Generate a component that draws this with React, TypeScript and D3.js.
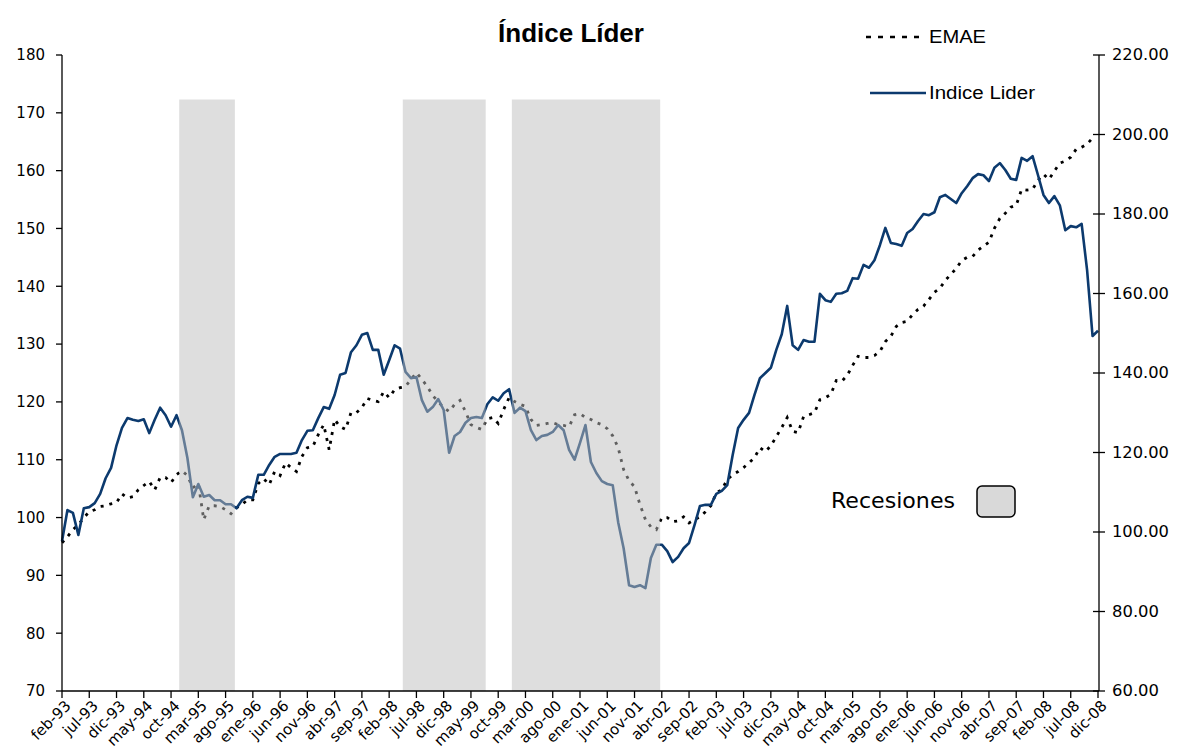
import React from "react";
import * as d3 from "d3";

const MONTHS = ["ene", "feb", "mar", "abr", "may", "jun", "jul", "ago", "sep", "oct", "nov", "dic"];
const N_MONTHS = 191;
const categories: string[] = [];
for (let k = 0; k < N_MONTHS; k++) {
  const m = (1 + k) % 12;
  const y = 93 + Math.floor((1 + k) / 12);
  categories.push(`${MONTHS[m]}-${String(y % 100).padStart(2, "0")}`);
}

const tickLabels = [
  "feb-93", "jul-93", "dic-93", "may-94", "oct-94", "mar-95", "ago-95", "ene-96", "jun-96", "nov-96",
  "abr-97", "sep-97", "feb-98", "jul-98", "dic-98", "may-99", "oct-99", "mar-00", "ago-00", "ene-01",
  "jun-01", "nov-01", "abr-02", "sep-02", "feb-03", "jul-03", "dic-03", "may-04", "oct-04", "mar-05",
  "ago-05", "ene-06", "jun-06", "nov-06", "abr-07", "sep-07", "feb-08", "jul-08", "dic-08",
];

const leftTicks = [70, 80, 90, 100, 110, 120, 130, 140, 150, 160, 170, 180];
const rightTicks = [60, 80, 100, 120, 140, 160, 180, 200, 220];

// Índice Líder (left axis)
const indiceLider = [
  95.9, 101.3, 100.8, 97.0, 101.6, 101.8, 102.5, 104.1, 106.8, 108.6,
  112.5, 115.5, 117.2, 116.9, 116.7, 117.0, 114.6, 116.9, 119.0, 117.7,
  115.7, 117.7, 115.1, 110.3, 103.5, 105.8, 103.6, 103.9, 103.0, 103.0,
  102.3, 102.3, 101.6, 103.0, 103.6, 103.4, 107.4, 107.4, 109.1, 110.5,
  111.0, 111.0, 111.0, 111.2, 113.4, 115.0, 115.1, 117.2, 119.1, 118.8,
  121.2, 124.7, 125.0, 128.6, 129.8, 131.6, 131.9, 129.0, 129.0, 124.7,
  127.2, 129.8, 129.2, 125.2, 124.1, 124.3, 120.3, 118.3, 119.1, 120.5,
  118.6, 111.2, 114.1, 114.8, 116.4, 117.2, 117.4, 117.2, 119.6, 120.8,
  120.2, 121.5, 122.2, 118.1, 119.0, 118.4, 115.1, 113.4, 114.1, 114.3,
  114.8, 116.0, 115.1, 111.7, 110.0, 112.9, 116.0, 109.6, 107.7, 106.3,
  105.8, 105.6, 99.2, 94.7, 88.3, 88.0, 88.3, 87.8, 93.0, 95.3,
  95.3, 94.2, 92.3, 93.2, 94.7, 95.6, 98.7, 102.0, 102.2, 102.2,
  104.1, 104.6, 105.6, 110.8, 115.5, 116.9, 118.1, 121.2, 124.1, 125.0,
  125.9, 129.0, 131.7, 136.6, 129.8, 129.0, 130.7, 130.4, 130.4, 138.7,
  137.6, 137.3, 138.7, 138.8, 139.2, 141.4, 141.3, 143.7, 143.2, 144.5,
  147.1, 150.1, 147.5, 147.3, 147.0, 149.2, 149.9, 151.3, 152.5, 152.3,
  152.8, 155.4, 155.8, 155.1, 154.4, 156.1, 157.3, 158.7, 159.4, 159.2,
  158.2, 160.5, 161.3, 160.1, 158.6, 158.4, 162.2, 161.7, 162.5, 159.2,
  155.8, 154.4, 155.6, 154.0, 149.7, 150.4, 150.2, 150.8, 142.8, 131.4,
  132.3,
];

// EMAE (right axis)
const emae = [
  97.3, 98.8, 100.6, 101.8, 103.6, 105.1, 105.6, 106.4, 106.6, 107.1,
  107.4, 109.6, 108.6, 108.9, 110.6, 111.7, 112.7, 110.6, 113.7, 113.7,
  112.4, 114.4, 115.4, 114.2, 111.1, 112.2, 103.1, 106.6, 106.6, 106.4,
  105.6, 104.6, 106.1, 106.9, 108.1, 108.1, 112.2, 113.4, 111.9, 115.2,
  114.2, 117.4, 116.2, 115.2, 119.0, 121.2, 121.5, 124.5, 127.0, 120.7,
  128.3, 126.5, 125.8, 130.0, 130.0, 131.3, 133.6, 133.1, 132.8, 135.3,
  133.8, 135.8, 136.3, 136.6, 138.4, 140.1, 138.4, 136.6, 134.3, 132.8,
  131.3, 130.3, 132.1, 133.1, 130.3, 127.0, 126.3, 125.8, 128.5, 128.8,
  127.3, 130.8, 133.8, 132.8, 132.1, 131.6, 128.3, 126.8, 127.0, 127.3,
  127.5, 127.0, 126.8, 126.5, 129.5, 129.8, 128.8, 128.3, 127.5, 127.0,
  126.0, 124.2, 121.2, 115.7, 112.9, 111.4, 106.9, 103.1, 101.3, 100.6,
  103.6, 103.6, 102.6, 102.8, 103.8, 102.3, 103.1, 103.8, 105.1, 106.6,
  109.9, 110.6, 113.2, 114.4, 115.2, 116.2, 117.4, 118.7, 121.2, 120.2,
  121.7, 124.0, 126.3, 128.8, 125.3, 125.0, 129.0, 129.5, 130.0, 133.3,
  133.8, 134.6, 138.1, 137.9, 139.4, 141.9, 144.2, 143.9, 143.9, 144.4,
  145.4, 147.9, 149.2, 151.7, 152.7, 153.0, 154.7, 156.0, 156.8, 158.5,
  160.3, 161.3, 163.3, 164.8, 166.3, 168.3, 169.1, 169.3, 170.9, 171.9,
  172.9, 176.4, 178.9, 180.2, 181.7, 182.2, 186.2, 186.0, 186.2, 188.5,
  190.0, 188.7, 190.8, 192.8, 193.3, 194.3, 196.3, 196.8, 197.6, 199.1,
];

const recesiones = [
  { start: "dic-94", end: "sep-95" },
  { start: "may-98", end: "jul-99" },
  { start: "ene-00", end: "mar-02" },
];
const recessionTop = 172.3;

const W = 1181;
const H = 751;
const X0 = 62;
const X1 = 1098;
const Y0 = 55;
const Y1 = 691;
const NAVY = "#0c3a6e";
const AXIS_FONT = "'DejaVu Sans', Verdana, sans-serif";

export default function App() {
  const x = d3.scaleLinear().domain([0, N_MONTHS - 1]).range([X0, X1]);
  const yL = d3.scaleLinear().domain([70, 180]).range([Y1, Y0]);
  const yR = d3.scaleLinear().domain([60, 220]).range([Y1, Y0]);
  const step = x(1) - x(0);

  const liderLine = d3
    .line<number>()
    .x((_, i) => x(i))
    .y((d) => yL(d))(indiceLider) as string;
  const emaeLine = d3
    .line<number>()
    .x((_, i) => x(i))
    .y((d) => yR(d))(emae) as string;

  return (
    <svg
      width={W}
      height={H}
      style={{ position: "absolute", left: 0, top: 0, display: "block", background: "#fff" }}
    >
      <rect x={0} y={0} width={W} height={H} fill="#fff" />

      {/* Series */}
      <path d={emaeLine} fill="none" stroke="#000" strokeWidth={2.8} strokeDasharray="3,6" />
      <path d={liderLine} fill="none" stroke={NAVY} strokeWidth={2.6} strokeLinejoin="round" />

      {/* Recession shading (semi-transparent overlay) */}
      {recesiones.map((r, k) => {
        const s = categories.indexOf(r.start);
        const e = categories.indexOf(r.end);
        const xa = x(s) - step / 2;
        const xb = x(e) + step * 0.7;
        return (
          <rect
            key={k}
            x={xa}
            y={yL(recessionTop)}
            width={xb - xa}
            height={Y1 - yL(recessionTop)}
            fill="rgb(189,189,189)"
            fillOpacity={0.5}
          />
        );
      })}

      {/* Left axis */}
      <line x1={X0} x2={X0} y1={Y0} y2={Y1} stroke="#000" strokeWidth={1.3} />
      {leftTicks.map((t) => (
        <g key={t}>
          <line x1={X0 - 6} x2={X0} y1={yL(t)} y2={yL(t)} stroke="#000" strokeWidth={1.3} />
          <text
            x={45}
            y={yL(t)}
            dy="0.36em"
            textAnchor="end"
            fontFamily={AXIS_FONT}
            fontSize={15}
            fill="#000"
          >
            {t}
          </text>
        </g>
      ))}

      {/* Right axis */}
      <line x1={X1 + 1} x2={X1 + 1} y1={Y0} y2={Y1} stroke="#000" strokeWidth={1.3} />
      {rightTicks.map((t) => (
        <g key={t}>
          <line x1={X1 - 5} x2={X1 + 7} y1={yR(t)} y2={yR(t)} stroke="#000" strokeWidth={1.3} />
          <text
            x={1112}
            y={yR(t)}
            dy="0.36em"
            textAnchor="start"
            fontFamily={AXIS_FONT}
            fontSize={15}
            textLength={t >= 100 ? 57 : 47}
            lengthAdjust="spacingAndGlyphs"
            fill="#000"
          >
            {t.toFixed(2)}
          </text>
        </g>
      ))}

      {/* X axis */}
      <line x1={X0} x2={X1 + 1} y1={Y1} y2={Y1} stroke="#000" strokeWidth={1.3} />
      {tickLabels.map((lab) => {
        const i = categories.indexOf(lab);
        const xi = x(i);
        return (
          <g key={lab}>
            <line x1={xi} x2={xi} y1={Y1} y2={Y1 + 7} stroke="#000" strokeWidth={1.3} />
            <text
              transform={`translate(${xi + 2},${Y1 + 8}) rotate(-45)`}
              textAnchor="end"
              dy="0.72em"
              fontFamily={AXIS_FONT}
              fontSize={15}
              fill="#000"
            >
              {lab}
            </text>
          </g>
        );
      })}

      {/* Title */}
      <text
        x={571}
        y={42}
        textAnchor="middle"
        fontFamily="'Liberation Sans', Arial, sans-serif"
        fontWeight="bold"
        fontSize={26}
        fill="#000"
      >
        Índice Líder
      </text>

      {/* Legend */}
      <line x1={866} x2={925} y1={37} y2={37} stroke="#000" strokeWidth={2.5} strokeDasharray="5,7" />
      <text
        x={929}
        y={43}
        fontFamily="'Liberation Sans', Arial, sans-serif"
        fontSize={18}
        textLength={57}
        lengthAdjust="spacingAndGlyphs"
        fill="#000"
      >
        EMAE
      </text>
      <line x1={870} x2={926} y1={93} y2={93} stroke={NAVY} strokeWidth={2.5} />
      <text
        x={929}
        y={99}
        fontFamily="'Liberation Sans', Arial, sans-serif"
        fontSize={18}
        textLength={106}
        lengthAdjust="spacingAndGlyphs"
        fill="#000"
      >
        Indice Lider
      </text>

      {/* Recessions legend */}
      <text
        x={831}
        y={508}
        fontFamily="'DejaVu Sans', Tahoma, sans-serif"
        fontSize={22}
        textLength={124}
        lengthAdjust="spacingAndGlyphs"
        fill="#000"
      >
        Recesiones
      </text>
      <rect x={977} y={486} width={38} height={31} rx={5} fill="#d9d9d9" stroke="#000" strokeWidth={1.5} />
    </svg>
  );
}
